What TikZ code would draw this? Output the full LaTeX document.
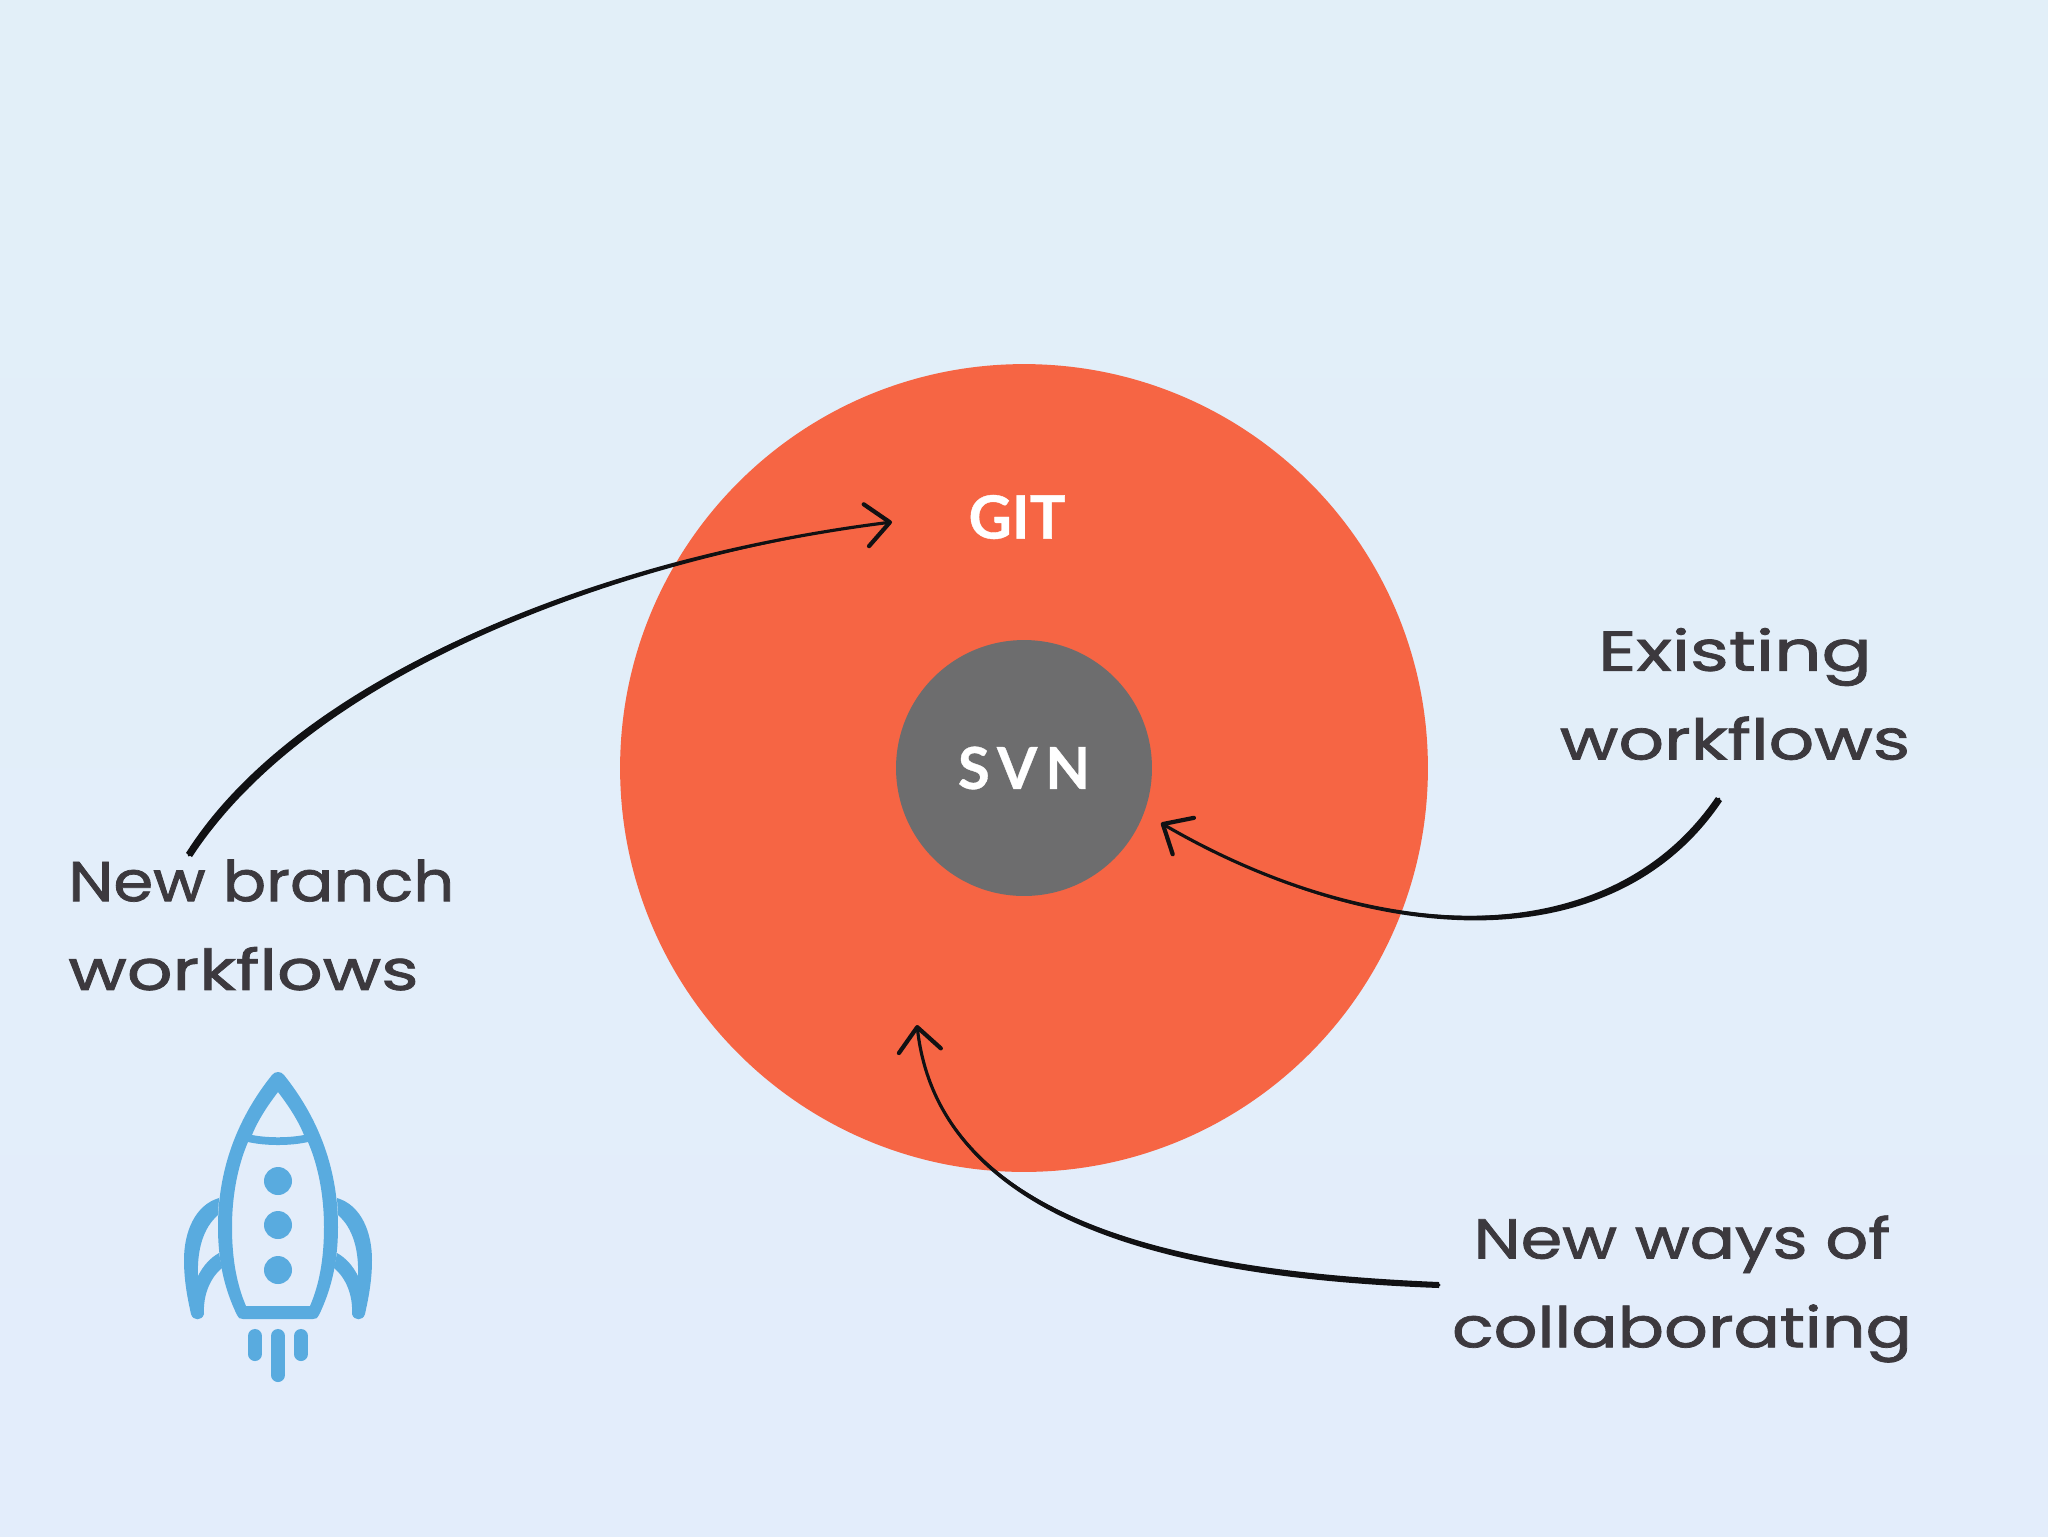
\documentclass[tikz,border=0pt]{standalone}
\usepackage{graphicx}
\usepackage{fontspec}
\usetikzlibrary{arrows.meta}
\newfontfamily\handfont{Poppins}[FakeBold=1.3]
\newfontfamily\labelfont{Lato}[BoldFont={Lato Bold},BoldFeatures={FakeBold=0.6}]
\newfontfamily\spacedfont{Lato}[BoldFont={Lato Bold},BoldFeatures={FakeBold=0.6,LetterSpace=14},LetterSpace=14]
\definecolor{pagetop}{HTML}{E2EFF8}
\definecolor{pagebottom}{HTML}{E3EDFB}
\definecolor{gitorange}{HTML}{F66544}
\definecolor{svngrey}{HTML}{6D6D6E}
\definecolor{rocketblue}{HTML}{59ABDF}
\definecolor{handink}{HTML}{3C393E}
\definecolor{brushink}{HTML}{111113}
\newcommand{\widen}[2]{\scalebox{#1}[1]{#2}}
\tikzset{
  x=0.02cm,y=-0.02cm,
  disc/.style={circle,inner sep=0pt,outer sep=0pt,draw=none},
  handnote/.style={font=\handfont\fontsize{32}{50.5}\selectfont,text=handink,inner sep=0pt},
  brush/.style={draw=brushink,line width=1.8pt,line cap=round,
    -{Straight Barb[length=13.5pt,width=24pt,line width=2.4pt,round]}},
  taper/.style={fill=brushink,draw=none},
  rocketline/.style={draw=rocketblue,line width=8pt,line cap=round},
  rocketshape/.style={fill=rocketblue,draw=none,even odd rule},
}
\begin{document}
\begin{tikzpicture}
\useasboundingbox (0,0) rectangle (2048,1536);
\shade[top color=pagetop,bottom color=pagebottom] (-10,-10) rectangle (2058,1546);

\node[disc,fill=gitorange,minimum size=16.16cm] (git) at (1024,768) {};
\node[disc,fill=svngrey,minimum size=5.12cm,text=white,font=\spacedfont\bfseries\fontsize{33}{33}\selectfont] (svn) at (1024,768) {SVN};
\node[text=white,font=\labelfont\bfseries\fontsize{34}{34}\selectfont,inner sep=0pt] (gitlabel) at (1017,517) {GIT};

\node[handnote,align=left,anchor=west] (branch) at (68,925) {\widen{1.14}{New branch}\\\widen{1.27}{workflows}};
\node[handnote,align=center] (existing) at (1735,694) {\widen{1.32}{Existing}\\\widen{1.27}{workflows}};
\node[handnote,align=center] (ways) at (1682,1289) {\widen{1.19}{New ways of}\\\widen{1.22}{collaborating}};

\coordinate (a1) at (189,855);
\coordinate (a2) at (892,522);
\coordinate (b1) at (1719,799);
\coordinate (b2) at (1161,823);
\coordinate (c1) at (1439,1285);
\coordinate (c2) at (917,1025);

\draw[brush] (a1) .. controls (300,680) and (590,560) .. (a2);
\fill[taper] (186,853) .. controls (297,678) and (590,560) .. (a2) .. controls (592,563) and (305,684) .. (192,857) -- cycle;
\draw[brush] (b1) .. controls (1610,960) and (1370,945) .. (b2);
\fill[taper] (1716,797) .. controls (1607,957) and (1370,945) .. (b2) .. controls (1368,948) and (1612,965) .. (1722,801) -- cycle;
\draw[brush] (c1) .. controls (1200,1275) and (940,1230) .. (c2);
\fill[taper] (1439,1282) .. controls (1200,1272) and (940,1230) .. (c2) .. controls (936,1233) and (1198,1279) .. (1439,1288) -- cycle;

% rocket
\fill[rocketshape]
  (272,1075) .. controls (240,1115) and (218,1165) .. (218,1227)
  .. controls (218,1265) and (226,1292) .. (237,1315)
  .. controls (238,1318) and (240,1319) .. (243,1319) -- (313,1319)
  .. controls (316,1319) and (318,1318) .. (319,1315)
  .. controls (330,1292) and (338,1265) .. (338,1227)
  .. controls (338,1165) and (316,1115) .. (284,1075)
  .. controls (281,1071) and (275,1071) .. (272,1075) -- cycle
  (248,1142) .. controls (238,1165) and (232,1195) .. (232,1227)
  .. controls (232,1260) and (237,1285) .. (246,1306) -- (310,1306)
  .. controls (319,1285) and (324,1260) .. (324,1227)
  .. controls (324,1195) and (318,1165) .. (308,1142)
  .. controls (290,1146) and (266,1146) .. (248,1142) -- cycle
  (278,1092) .. controls (268,1105) and (258,1120) .. (252,1135)
  .. controls (268,1138) and (288,1138) .. (304,1135)
  .. controls (298,1120) and (288,1105) .. (278,1092) -- cycle;
\fill[rocketshape] (278,1181) circle (14);
\fill[rocketshape] (278,1225) circle (14);
\fill[rocketshape] (278,1270) circle (14);
\fill[rocketshape] (219,1198) .. controls (195,1205) and (184,1232) .. (184,1260)
  .. controls (184,1282) and (188,1300) .. (191,1314)
  .. controls (193,1321) and (202,1321) .. (204,1314)
  .. controls (203,1295) and (210,1278) .. (222,1268) -- (219,1253)
  .. controls (210,1258) and (203,1266) .. (198,1276)
  .. controls (197,1250) and (203,1228) .. (218,1215) -- cycle;
\fill[rocketshape] (337,1198) .. controls (361,1205) and (372,1232) .. (372,1260)
  .. controls (372,1282) and (368,1300) .. (365,1314)
  .. controls (363,1321) and (354,1321) .. (352,1314)
  .. controls (353,1295) and (346,1278) .. (334,1268) -- (337,1253)
  .. controls (346,1258) and (353,1266) .. (358,1276)
  .. controls (359,1250) and (353,1228) .. (338,1215) -- cycle;
\draw[rocketline] (255,1336) -- (255,1354);
\draw[rocketline] (278,1336) -- (278,1375);
\draw[rocketline] (301,1336) -- (301,1354);
\end{tikzpicture}
\end{document}
